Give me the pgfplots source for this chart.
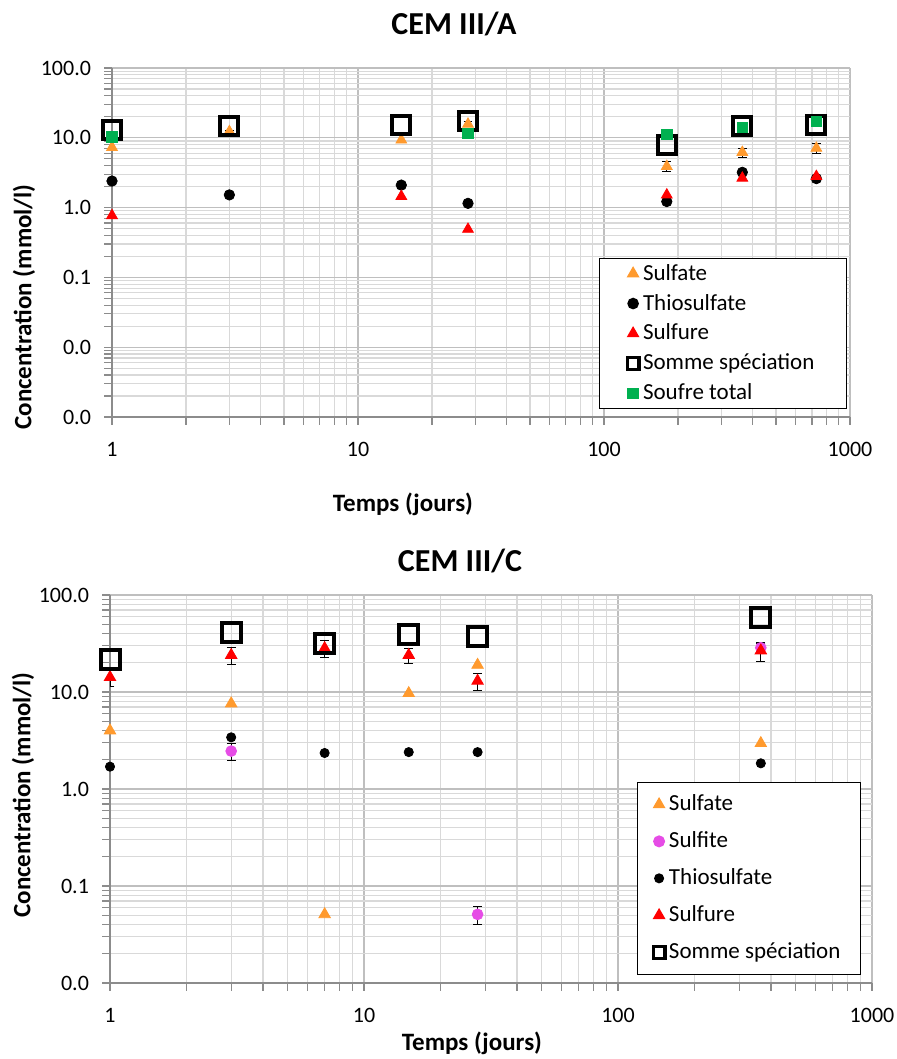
\documentclass[border=0pt]{standalone}
\usepackage{fontspec}
\setmainfont{Carlito}
\usepackage{pgfplots}
\pgfplotsset{compat=1.18}
\definecolor{sulfate}{HTML}{FF9A2E}
\definecolor{sulfure}{HTML}{FF0000}
\definecolor{soufre}{HTML}{00B050}
\definecolor{sulfite}{HTML}{E64CE6}
\definecolor{gridmaj}{HTML}{BFBFBF}
\definecolor{gridmin}{HTML}{D9D9D9}
\definecolor{axisgray}{HTML}{8C8C8C}
\pgfplotsset{
  sfate/.style={mark=triangle*, mark size=3.1pt, mark options={draw=sulfate, fill=sulfate}},
  sfure/.style={mark=triangle*, mark size=3.1pt, mark options={draw=sulfure, fill=sulfure}},
  thio/.style={mark=*, mark size=2.6pt, mark options={draw=black, fill=black}},
  sfite/.style={mark=*, mark size=2.7pt, mark options={draw=sulfite, fill=sulfite}},
  stot/.style={mark=square*, mark size=2.6pt, mark options={draw=soufre, fill=soufre}},
  somme/.style={mark=square, mark size=4.5pt, mark options={draw=black, line width=2pt}},
  sommeleg/.style={mark=square, mark size=2.95pt, mark options={draw=black, line width=1.6pt}},
  ebar/.style={mark=none,
    error bars/y dir=both, error bars/y explicit, error bars/error mark=-,
    error bars/error bar style={black, line width=0.5pt},
    error bars/error mark options={rotate=90, draw=black, line width=0.5pt, mark size=2.2pt}},
}
\begin{document}
\begin{tikzpicture}
\path[use as bounding box] (0pt,0pt) rectangle (448pt,529.5pt);

% ---------------- top panel ----------------
\begin{axis}[
  scale only axis, xmode=log, ymode=log, xmin=1, xmax=1000,
  xtick={1,10,100,1000}, xticklabels={1,10,100,1000},
  grid=both,
  major grid style={draw=gridmaj, line width=0.6pt},
  minor grid style={draw=gridmin, line width=0.6pt},
  axis x line*=bottom, axis y line*=left,
  axis line style={draw=axisgray, line width=0.7pt},
  tick align=outside,
  major tick length=4pt, minor tick length=4pt,
  tick style={draw=axisgray, line width=0.6pt},
  tick label style={font=\fontsize{11}{13}\selectfont, text=black},
  xticklabel style={yshift=-5pt},
  yticklabel style={xshift=-3pt},
  only marks,
  legend image code/.code={\draw[#1] plot coordinates {(0pt,0pt)};},
  legend cell align=left,
  at={(56pt,321pt)}, anchor=south west, width=369pt, height=174.5pt,
  ymin=0.001, ymax=100,
  ytick={0.001,0.01,0.1,1,10,100}, yticklabels={0.0,0.0,0.1,1.0,10.0,100.0},
  legend style={at={(0.996,0.023)}, anchor=south east, draw=black, line width=0.6pt, fill=white,
    font=\fontsize{11.5}{13}\selectfont, inner xsep=14pt, inner ysep=0.75pt, row sep=1.5pt,
    /tikz/every even column/.append style={column sep=3pt}},
]
\addplot[sfate, forget plot] coordinates {(1,7.3) (3,12.3) (15,9.3) (28,15.7) (180,3.9) (365,6.2) (730,7.1)};
\addplot[ebar, forget plot] coordinates {(3,12.3) +- (0,0.6) (28,15.7) +- (0,1.4) (180,3.9) +- (0,0.6) (365,6.2) +- (0,0.9) (730,7.1) +- (0,1.1)};
\addplot[thio, forget plot] coordinates {(1,2.4) (3,1.52) (15,2.1) (28,1.15) (180,1.22) (365,3.2) (730,2.6)};
\addplot[sfure, forget plot] coordinates {(1,0.77) (15,1.45) (28,0.49) (180,1.52) (365,2.65) (730,2.8)};
\addplot[somme, forget plot] coordinates {(1,13.0) (3,14.8) (15,15.2) (28,17.4) (180,7.8) (365,14.7) (730,15.2)};
\addplot[stot, forget plot] coordinates {(1,10.3) (28,11.5) (180,11.1) (365,14.0) (730,17.1)};
\addlegendimage{sfate}\addlegendentry{Sulfate}
\addlegendimage{thio}\addlegendentry{Thiosulfate}
\addlegendimage{sfure}\addlegendentry{Sulfure}
\addlegendimage{sommeleg}\addlegendentry{Somme spéciation}
\addlegendimage{stot}\addlegendentry{Soufre total}
\end{axis}

% ---------------- bottom panel ----------------
\begin{axis}[
  scale only axis, xmode=log, ymode=log, xmin=1, xmax=1000,
  xtick={1,10,100,1000}, xticklabels={1,10,100,1000},
  grid=both,
  major grid style={draw=gridmaj, line width=0.6pt},
  minor grid style={draw=gridmin, line width=0.6pt},
  axis x line*=bottom, axis y line*=left,
  axis line style={draw=axisgray, line width=0.7pt},
  tick align=outside,
  major tick length=4pt, minor tick length=4pt,
  tick style={draw=axisgray, line width=0.6pt},
  tick label style={font=\fontsize{11}{13}\selectfont, text=black},
  xticklabel style={yshift=-5pt},
  yticklabel style={xshift=-3pt},
  only marks,
  legend image code/.code={\draw[#1] plot coordinates {(0pt,0pt)};},
  legend cell align=left,
  at={(55pt,38pt)}, anchor=south west, width=381pt, height=194pt,
  ymin=0.01, ymax=100,
  ytick={0.01,0.1,1,10,100}, yticklabels={0.0,0.1,1.0,10.0,100.0},
  legend style={at={(0.9856,0.0206)}, anchor=south east, draw=black, line width=0.6pt, fill=white,
    font=\fontsize{11.5}{13}\selectfont, inner xsep=8pt, inner ysep=4.35pt, row sep=5pt,
    /tikz/every even column/.append style={column sep=2pt}},
]
\addplot[sfate, mark size=3.3pt, forget plot] coordinates {(1,4.0) (3,7.6) (7,0.051) (15,9.7) (28,19.0) (365,2.96)};
\addplot[sfite, forget plot] coordinates {(3,2.46) (28,0.051) (365,28.6)};
\addplot[ebar, forget plot] coordinates {(3,2.46) +- (0,0.5) (28,0.051) +- (0,0.011) (365,28.6) +- (0,3.0)};
\addplot[thio, mark size=2.3pt, forget plot] coordinates {(1,1.70) (3,3.41) (7,2.35) (15,2.4) (28,2.4) (365,1.84)};
\addplot[sfure, mark size=3.3pt, forget plot] coordinates {(1,14.2) (3,24.0) (7,28.2) (15,24.0) (28,13.0) (365,26.7)};
\addplot[ebar, forget plot] coordinates {(1,14.2) +- (0,2.7) (3,24.0) +- (0,5.0) (7,28.2) +- (0,5.6) (15,24.0) +- (0,4.2) (28,13.0) +- (0,2.6) (365,26.7) +- (0,6.0)};
\addplot[somme, mark size=4.75pt, forget plot] coordinates {(1,21.7) (3,40.9) (7,31.3) (15,39.4) (28,37.2) (365,58.9)};
\addlegendimage{sfate}\addlegendentry{Sulfate}
\addlegendimage{sfite}\addlegendentry{Sulfite}
\addlegendimage{thio, mark size=2.2pt}\addlegendentry{Thiosulfate}
\addlegendimage{sfure}\addlegendentry{Sulfure}
\addlegendimage{sommeleg}\addlegendentry{Somme spéciation}
\end{axis}

% ---------------- texts ----------------
\node[anchor=base, font=\bfseries\fontsize{16}{19}\selectfont] at (227pt,512pt) {CEM III/A};
\node[anchor=base, font=\bfseries\fontsize{16}{19}\selectfont] at (230pt,243.5pt) {CEM III/C};
\node[rotate=90, font=\bfseries\fontsize{12.5}{15}\selectfont] at (12pt,376pt) {Concentration (mmol/l)};
\node[rotate=90, font=\bfseries\fontsize{12.5}{15}\selectfont] at (11.5pt,132pt) {Concentration (mmol/l)};
\node[anchor=base, font=\bfseries\fontsize{12.5}{15}\selectfont] at (201.5pt,273.5pt) {Temps (jours)};
\node[anchor=base, font=\bfseries\fontsize{12.5}{15}\selectfont] at (236pt,4.5pt) {Temps (jours)};
\end{tikzpicture}
\end{document}
